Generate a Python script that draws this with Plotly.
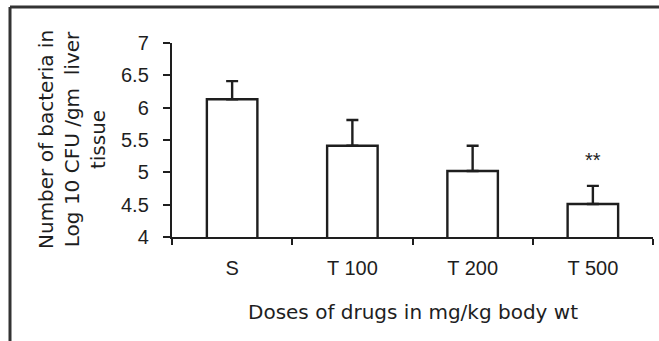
import plotly.graph_objects as go

# Bacterial load per dose group
doses = ["S", "T 100", "T 200", "T 500"]
log_cfu = [6.13, 5.41, 5.02, 4.51]
sem = [0.28, 0.40, 0.39, 0.28]
y_ticks = [4, 4.5, 5, 5.5, 6, 6.5, 7]
y_tick_text = ["4", "4.5", "5", "5.5", "6", "6.5", "7"]

W, H = 659, 341
ML, MR, MT, MB = 172, 6, 43, 104
plot_w = W - ML - MR
plot_h = H - MT - MB


def px_x(px):
    return (px - ML) / plot_w


def px_y(py):
    return (H - MB - py) / plot_h


ink = "#1e1e1e"
tick_font = dict(family="Liberation Sans, Arial", size=20, color=ink)
title_font = dict(family="DejaVu Sans", size=20, color=ink)

fig = go.Figure()
fig.add_trace(go.Bar(
    x=doses,
    y=log_cfu,
    width=0.42,
    marker=dict(color="white", line=dict(color=ink, width=2.4)),
    error_y=dict(type="data", symmetric=False, array=sem,
                 arrayminus=[0] * len(sem), color=ink, thickness=2.4, width=6),
    showlegend=False,
))

# significance mark over the highest dose
fig.add_annotation(x="T 500", y=log_cfu[3] + sem[3] + 0.40, text="**",
                   showarrow=False, font=dict(family="Liberation Sans, Arial", size=20, color=ink),
                   yanchor="middle")

fig.update_xaxes(
    type="category",
    tickson="boundaries",
    ticks="outside", ticklen=6, tickwidth=2, tickcolor=ink,
    showline=True, linecolor=ink, linewidth=2.4,
    showgrid=False, zeroline=False,
    tickfont=tick_font, ticklabelstandoff=12,
    range=[-0.5, 3.5],
)
fig.update_yaxes(
    range=[4, 7],
    tickvals=y_ticks, ticktext=y_tick_text,
    ticks="outside", ticklen=7, tickwidth=2, tickcolor=ink,
    showline=True, linecolor=ink, linewidth=2.4,
    showgrid=False, zeroline=False,
    tickfont=tick_font, ticklabelstandoff=10,
)

# axis titles
fig.add_annotation(xref="paper", yref="paper", x=px_x(72), y=px_y(140),
                   text="Number of bacteria in<br>Log 10 CFU /gm  liver<br>tissue",
                   textangle=-90, showarrow=False, font=title_font,
                   xanchor="center", yanchor="middle", align="center")
fig.add_annotation(xref="paper", yref="paper", x=0.5, y=px_y(312),
                   text="Doses of drugs in mg/kg body wt",
                   showarrow=False, font=title_font,
                   xanchor="center", yanchor="middle")

# frame lines along the top and left edges
frame = dict(color="#333333", width=3)
fig.add_shape(type="line", xref="paper", yref="paper",
              x0=px_x(10), y0=px_y(7), x1=px_x(W + 2), y1=px_y(7), line=frame)
fig.add_shape(type="line", xref="paper", yref="paper",
              x0=px_x(10), y0=px_y(7), x1=px_x(10), y1=px_y(H + 2), line=frame)

fig.update_layout(
    width=W, height=H,
    margin=dict(l=ML, r=MR, t=MT, b=MB),
    paper_bgcolor="white", plot_bgcolor="white",
    bargap=0.5,
)

fig.write_html("out.html")
